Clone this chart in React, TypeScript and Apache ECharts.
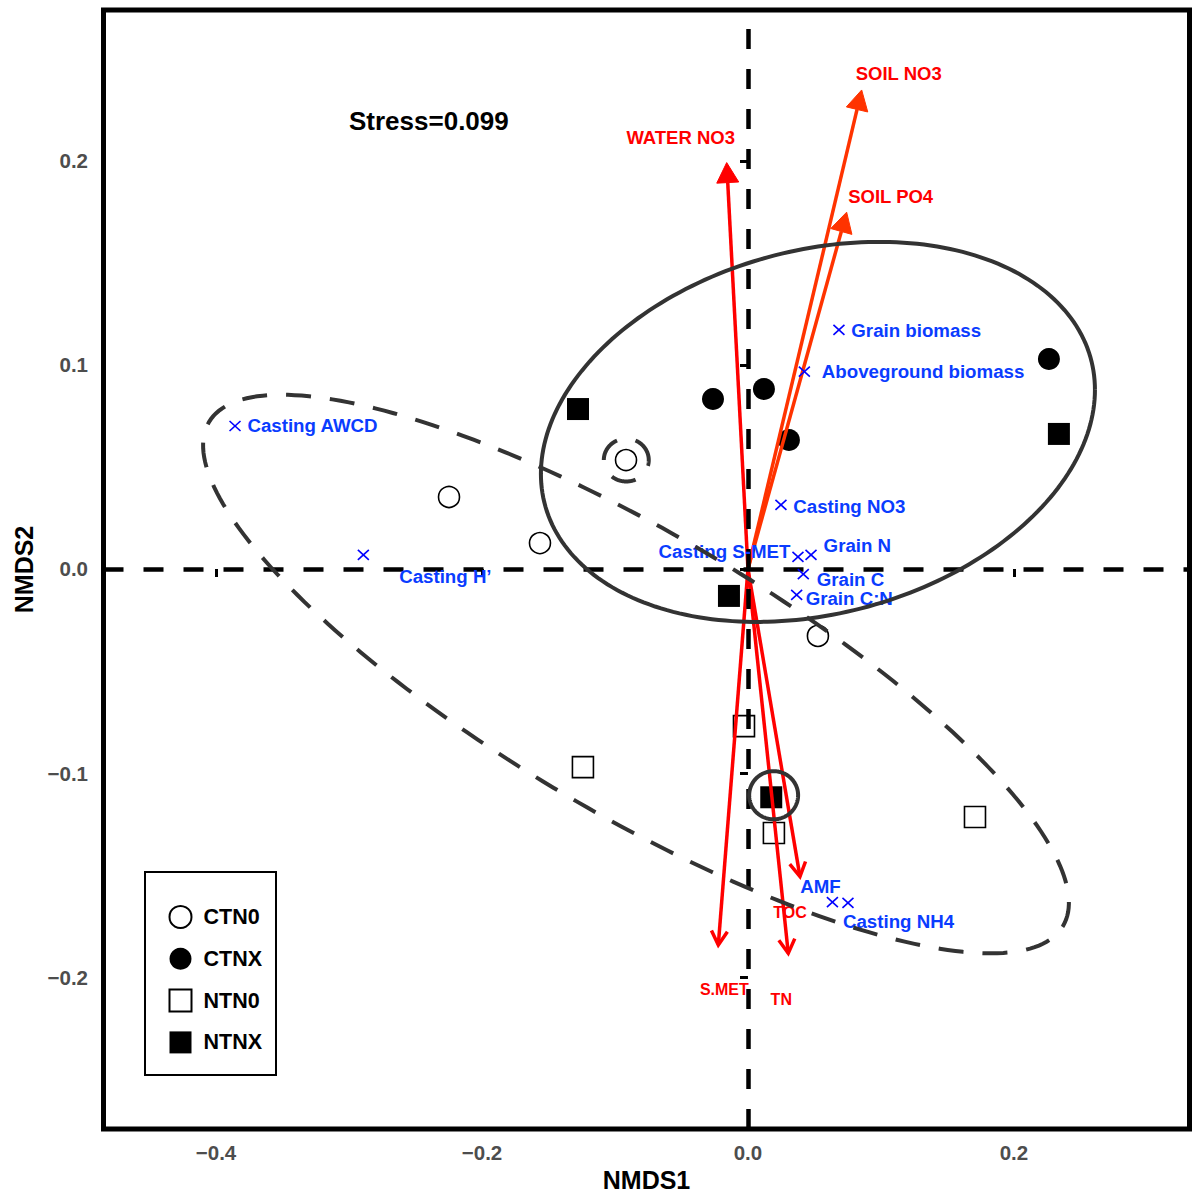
import React, { useEffect, useRef } from "react";
import * as echarts from "echarts";

const FONT = "'Liberation Sans', Arial, Helvetica, sans-serif";

// ---------- axes ----------
const xMin = -0.4846;
const xMax = 0.332;
const yMin = -0.2745;
const yMax = 0.274;
const xTicks = [-0.4, -0.2, 0.0, 0.2];
const yTicks = [-0.2, -0.1, 0.0, 0.1, 0.2];
const xTitle = "NMDS1";
const yTitle = "NMDS2";
const stressText = "Stress=0.099";

// ---------- sample scores ----------
const groupNames = ["CTN0", "CTNX", "NTN0", "NTNX"];
const ctn0Points = [
  [-0.2248, 0.0353],
  [-0.1564, 0.0127],
  [-0.0917, 0.0534],
  [0.0526, -0.0328],
];
const ctnxPoints = [
  [-0.0263, 0.0833],
  [0.012, 0.0882],
  [0.0308, 0.0632],
  [0.2263, 0.1029],
];
const ntn0Points = [
  [-0.1241, -0.0971],
  [-0.003, -0.077],
  [0.0195, -0.1294],
  [0.1707, -0.1216],
];
const ntnxPoints = [
  [-0.1278, 0.0784],
  [-0.0143, -0.0132],
  [0.0175, -0.1119],
  [0.2338, 0.0662],
];

// ---------- ellipses (centre + conjugate semi-diameters, data units) ----------
const ellipseCenters = [
  [0.0526, 0.0672],
  [-0.0842, -0.0515],
  [-0.0915, 0.0534],
  [0.0193, -0.1109],
];
const ellipseAxisA = [
  [0.2083, 0.02059],
  [0.3211, -0.1235],
  [0.0169, 0],
  [0.0184, 0],
];
const ellipseAxisB = [
  [0, 0.09084],
  [0.05346, 0.05907],
  [0, 0.0105],
  [0, 0.0118],
];
const ellipseDashed = [false, true, true, false];

// ---------- fitted vectors (arrows) ----------
const arrowNames = ["WATER NO3", "SOIL NO3", "SOIL PO4", "S.MET", "TN", "TOC"];
const arrowX = [-0.016, 0.0855, 0.0742, -0.0223, 0.0303, 0.0391];
const arrowY = [0.1992, 0.2348, 0.1749, -0.1843, -0.1884, -0.1508];

// ---------- other variables (blue crosses) ----------
const envNames = [
  "Casting AWCD",
  "Casting H\u2019",
  "Grain biomass",
  "Aboveground biomass",
  "Casting NO3",
  "Casting S-MET",
  "Grain N",
  "Grain C",
  "Grain C:N",
  "AMF",
  "Casting NH4",
];
const envX = [-0.3857, -0.2892, 0.0684, 0.0424, 0.0248, 0.0376, 0.0474, 0.0416, 0.0366, 0.0635, 0.0752];
const envY = [0.0701, 0.0069, 0.1172, 0.0967, 0.0314, 0.0059, 0.0069, -0.0025, -0.0127, -0.1633, -0.1637];

// ---------- styles (pixel offsets of labels, arrow heads) ----------
const envLabelStyle: Record<string, [number, number, string]> = {
  "Casting AWCD": [12.4, -0.5, "left"],
  "Casting H\u2019": [82, 22, "center"],
  "Grain biomass": [12.4, 1, "left"],
  "Aboveground biomass": [17.5, -0.5, "left"],
  "Casting NO3": [12.3, 1.5, "left"],
  "Casting S-MET": [-7.5, -5.5, "right"],
  "Grain N": [12.6, -9.3, "left"],
  "Grain C": [13.4, 5, "left"],
  "Grain C:N": [9, 3.3, "left"],
  AMF: [-12, -15.6, "center"],
  "Casting NH4": [50.5, 18.4, "center"],
};
const arrowStyle: Record<string, { closed: boolean; color: string; dx: number; dy: number; size: number }> = {
  "WATER NO3": { closed: true, color: "#FF0000", dx: -46, dy: -25, size: 18.5 },
  "SOIL NO3": { closed: true, color: "#FF3300", dx: 37, dy: -16, size: 18.5 },
  "SOIL PO4": { closed: true, color: "#FF3300", dx: 44, dy: -16, size: 18.5 },
  "S.MET": { closed: false, color: "#FF0000", dx: 6, dy: 45, size: 16 },
  TN: { closed: false, color: "#FF0000", dx: -7, dy: 46, size: 16 },
  TOC: { closed: false, color: "#FF0000", dx: -10, dy: 36, size: 16 },
};

const BLUE_TEXT = "#0A3CFF";
const BLUE_MARK = "#0000FF";
const RED_TEXT = "#FF0000";

const fmt = (v: number) => (v < 0 ? "\u2212" : "") + Math.abs(v).toFixed(1);

export default function App() {
  const ref = useRef<HTMLDivElement>(null);
  useEffect(() => {
    const chart = echarts.init(ref.current!, null, { renderer: "svg" });

    const labelText = { color: "#4D4D4D", fontSize: 20.5, fontWeight: "bold", fontFamily: FONT };
    const titleText = { color: "#000", fontSize: 25, fontWeight: "bold", fontFamily: FONT, lineHeight: 22 };

    const pointSeries = [
      { name: "CTN0", data: ctn0Points, symbol: "circle", open: true },
      { name: "CTNX", data: ctnxPoints, symbol: "circle", open: false },
      { name: "NTN0", data: ntn0Points, symbol: "rect", open: true },
      { name: "NTNX", data: ntnxPoints, symbol: "rect", open: false },
    ].map((g) => ({
      type: "scatter",
      name: g.name,
      data: g.data,
      symbol: g.symbol,
      symbolSize: g.open ? 21 : 22,
      itemStyle: g.open
        ? { color: "transparent", borderColor: "#000", borderWidth: 1.6, opacity: 1 }
        : { color: "#000", borderWidth: 0, opacity: 1 },
      silent: true,
      z: 3,
    }));

    const option: any = {
      animation: false,
      backgroundColor: "#fff",
      grid: {
        left: 103.5,
        top: 10,
        width: 1086,
        height: 1119,
        containLabel: false,
        outerBoundsMode: "none",
        show: true,
        borderColor: "#000",
        borderWidth: 5,
        backgroundColor: "transparent",
      },
      xAxis: {
        type: "value",
        min: xMin,
        max: xMax,
        axisLine: { show: false },
        splitLine: { show: false },
        axisTick: { show: true, customValues: xTicks, length: 8, lineStyle: { color: "#000", width: 3 } },
        axisLabel: { customValues: xTicks, formatter: fmt, margin: 12.5, ...labelText },
        name: xTitle,
        nameLocation: "middle",
        nameGap: 40,
        nameTextStyle: titleText,
      },
      yAxis: {
        type: "value",
        min: yMin,
        max: yMax,
        axisLine: { show: false },
        splitLine: { show: false },
        axisTick: { show: true, customValues: yTicks, length: 8, lineStyle: { color: "#000", width: 3 } },
        axisLabel: { customValues: yTicks, formatter: fmt, margin: 15.5, ...labelText },
        name: yTitle,
        nameLocation: "middle",
        nameGap: 69,
        nameTextStyle: titleText,
      },
      legend: {
        data: groupNames,
        orient: "vertical",
        left: 163.5,
        top: 900,
        itemWidth: 22,
        itemHeight: 22,
        itemGap: 18.8,
        selectedMode: false,
        textStyle: {
          fontSize: 21.5,
          fontWeight: "bold",
          color: "#000",
          fontFamily: FONT,
          padding: [0, 0, 0, 7],
          lineHeight: 22,
        },
      },
      graphic: [
        {
          type: "rect",
          shape: { x: 145, y: 872, width: 131, height: 203 },
          style: { fill: "#fff", stroke: "#000", lineWidth: 2 },
          z: 0,
        },
        {
          type: "text",
          x: 349,
          y: 121,
          style: {
            text: stressText,
            fill: "#000",
            fontSize: 26,
            fontWeight: "bold",
            fontFamily: FONT,
            align: "left",
            verticalAlign: "middle",
          },
        },
      ],
      series: [
        {
          type: "scatter",
          data: [],
          silent: true,
          markLine: {
            silent: true,
            symbol: ["none", "none"],
            label: { show: false },
            lineStyle: { color: "#000", width: 4.5, type: [20, 20] },
            data: [{ xAxis: 0 }, { yAxis: 0 }],
          },
          z: 1,
        },
        ...pointSeries,
        {
          type: "custom",
          name: "arrows",
          data: arrowX.map((x, i) => [x, arrowY[i]]),
          silent: true,
          z: 4,
          renderItem: (params: any, api: any) => {
            const name = arrowNames[params.dataIndex];
            const st = arrowStyle[name];
            const o = api.coord([0, 0]);
            const t = api.coord([api.value(0), api.value(1)]);
            const dx = t[0] - o[0];
            const dy = t[1] - o[1];
            const len = Math.hypot(dx, dy);
            const ux = dx / len;
            const uy = dy / len;
            const nx = -uy;
            const ny = ux;
            const hl = st.closed ? 20 : 14;
            const hw = st.closed ? 11 : 8;
            const bx = t[0] - ux * hl;
            const by = t[1] - uy * hl;
            const l = [bx + nx * hw, by + ny * hw];
            const r = [bx - nx * hw, by - ny * hw];
            const children: any[] = [
              {
                type: "line",
                shape: { x1: o[0], y1: o[1], x2: st.closed ? bx : t[0], y2: st.closed ? by : t[1] },
                style: { stroke: st.color, lineWidth: 3.5 },
              },
            ];
            if (st.closed) {
              children.push({
                type: "polygon",
                shape: { points: [l, t, r] },
                style: { fill: st.color, stroke: st.color, lineWidth: 1 },
              });
            } else {
              children.push({
                type: "polyline",
                shape: { points: [l, t, r] },
                style: { stroke: st.color, lineWidth: 3.5, fill: null, lineJoin: "miter" },
              });
            }
            children.push({
              type: "text",
              x: t[0] + st.dx,
              y: t[1] + st.dy,
              style: {
                text: name,
                fill: RED_TEXT,
                fontSize: st.size,
                fontWeight: "bold",
                fontFamily: FONT,
                align: "center",
                verticalAlign: "middle",
              },
            });
            return { type: "group", children };
          },
        },
        {
          type: "custom",
          name: "env",
          data: envX.map((x, i) => [x, envY[i]]),
          silent: true,
          z: 5,
          renderItem: (params: any, api: any) => {
            const name = envNames[params.dataIndex];
            const lab = envLabelStyle[name];
            const p = api.coord([api.value(0), api.value(1)]);
            const s = 5.5;
            const sy = 5;
            return {
              type: "group",
              children: [
                {
                  type: "line",
                  shape: { x1: p[0] - s, y1: p[1] - sy, x2: p[0] + s, y2: p[1] + sy },
                  style: { stroke: BLUE_MARK, lineWidth: 1.6 },
                },
                {
                  type: "line",
                  shape: { x1: p[0] - s, y1: p[1] + sy, x2: p[0] + s, y2: p[1] - sy },
                  style: { stroke: BLUE_MARK, lineWidth: 1.6 },
                },
                {
                  type: "text",
                  x: p[0] + lab[0],
                  y: p[1] + lab[1],
                  style: {
                    text: name,
                    fill: BLUE_TEXT,
                    fontSize: 18.7,
                    fontWeight: "bold",
                    fontFamily: FONT,
                    align: lab[2],
                    verticalAlign: "middle",
                  },
                },
              ],
            };
          },
        },
        {
          type: "custom",
          name: "ellipses",
          data: ellipseCenters,
          silent: true,
          z: 6,
          renderItem: (params: any, api: any) => {
            const i = params.dataIndex;
            const cx = api.value(0);
            const cy = api.value(1);
            const a = ellipseAxisA[i];
            const b = ellipseAxisB[i];
            const pts: number[][] = [];
            const n = 240;
            for (let k = 0; k <= n; k++) {
              const t = (2 * Math.PI * k) / n;
              const c = Math.cos(t);
              const s = Math.sin(t);
              pts.push(api.coord([cx + a[0] * c + b[0] * s, cy + a[1] * c + b[1] * s]));
            }
            return {
              type: "polyline",
              shape: { points: pts },
              style: {
                stroke: "#333333",
                lineWidth: 4,
                fill: null,
                lineDash: ellipseDashed[i] ? [25, 19] : null,
              },
            };
          },
        },
      ],
    };

    chart.setOption(option);
    return () => chart.dispose();
  }, []);

  return (
    <div
      ref={ref}
      style={{ position: "fixed", left: 0, top: 0, width: 1192, height: 1193, background: "#fff" }}
    />
  );
}
